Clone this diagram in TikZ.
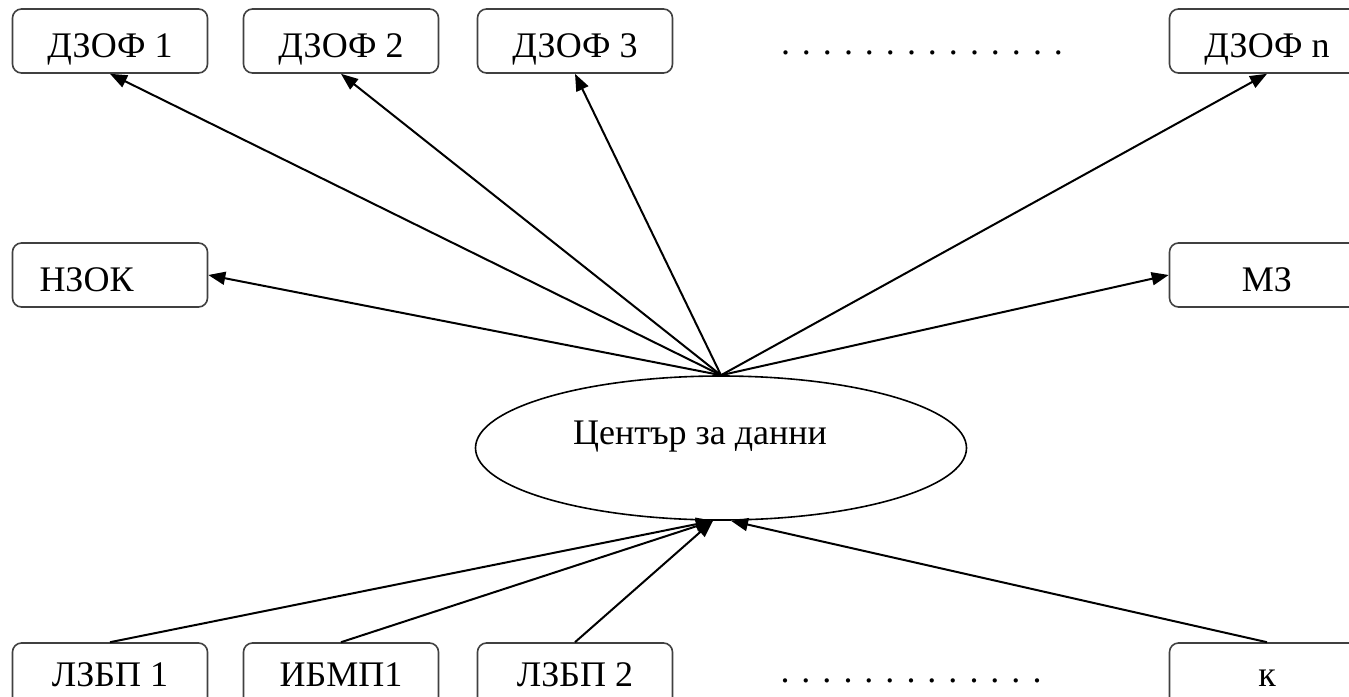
\documentclass[tikz,border=0pt]{standalone}
\usepackage{fontspec}
\setmainfont{Liberation Serif}
\usetikzlibrary{shapes.geometric,arrows.meta}

\begin{document}
\begin{tikzpicture}[x=1pt, y=-1pt,
		every node/.style = {font=\fontsize{36}{40}\selectfont},
		box/.style = {
			draw=black!75, line width=1.6pt, rounded corners=9pt,
			minimum width=195pt, minimum height=64pt, inner sep=0pt,
			text height=33pt, text depth=0pt},
		lowbox/.style = {box, text height=22pt},
		hub/.style = {draw, ellipse, line width=1.6pt,
			minimum width=491pt, minimum height=144pt, inner sep=0pt},
		link/.style = {line width=2pt, -{Triangle[length=17pt,width=13pt]}}]
		\useasboundingbox (0,0) rectangle (1349,696);
		\clip (0,0) rectangle (1349,696);
		% top row
		\node[box] (dz1) at (110,41) {ДЗОФ 1};
		\node[box] (dz2) at (341,41) {ДЗОФ 2};
		\node[box] (dz3) at (575,41) {ДЗОФ 3};
		\node[anchor=base] (dotsup) at (922,54) {. . . . . . . . . . . . . .};
		\node[box] (dzn) at (1267,41) {ДЗОФ n};
		% middle row
		\node[box, text width=141pt, align=left] (nzok) at (110,275) {НЗОК};
		\node[box] (mz) at (1267,275) {МЗ};
		\node[hub] (dc) at (721,448) {};
		\node[anchor=base] (dctext) at (700,444) {Център за данни};
		% bottom row
		\node[lowbox] (lz1) at (110,675) {ЛЗБП 1};
		\node[lowbox] (ib1) at (341,675) {ИБМП1};
		\node[lowbox] (lz2) at (575,675) {ЛЗБП 2};
		\node[anchor=base] (dotsdown) at (911,682) {. . . . . . . . . . . . .};
		\node[lowbox] (k) at (1267,675) {к};
		% connectors
		\draw[link] (dc.north) -- (dz1.south);
		\draw[link] (dc.north) -- (dz2.south);
		\draw[link] (dc.north) -- (dz3.south);
		\draw[link] (dc.north) -- (dzn.south);
		\draw[link] (dc.north) -- (nzok.east);
		\draw[link] (dc.north) -- (mz.west);
		\draw[link] (lz1.north) -- ([xshift=-8pt]dc.south);
		\draw[link] (ib1.north) -- ([xshift=-8pt]dc.south);
		\draw[link] (lz2.north) -- ([xshift=-8pt]dc.south);
		\draw[link] (k.north) -- ([xshift=10pt]dc.south);
	\end{tikzpicture}
\end{document}
